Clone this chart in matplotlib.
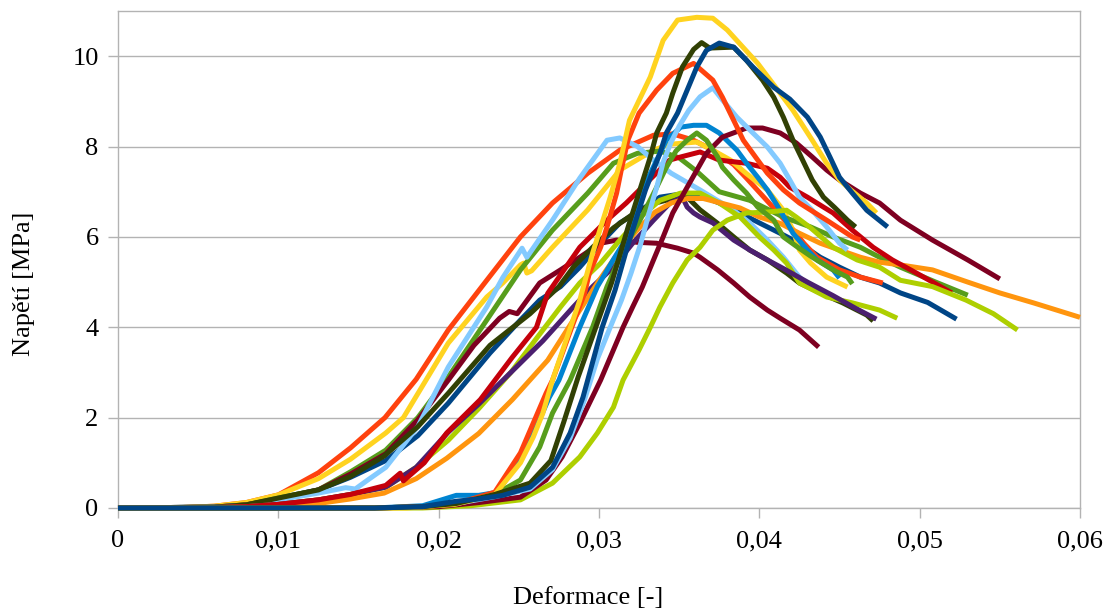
import matplotlib
matplotlib.use("Agg")
import matplotlib.pyplot as plt

# ---------------- data (strain [-], stress [MPa]) ----------------
x_dblue_late = [0, 0.016, 0.019, 0.0211, 0.0225, 0.024, 0.0257, 0.0271, 0.0282, 0.029, 0.0302, 0.031, 0.0318, 0.0329, 0.0338, 0.0342, 0.0349, 0.0355, 0.0361, 0.0367, 0.0375, 0.0384, 0.0396, 0.0409, 0.0419, 0.043, 0.0438, 0.0444, 0.045, 0.0458, 0.0467, 0.048]
y_dblue_late = [0, 0.0, 0.03, 0.15, 0.2, 0.28, 0.46, 0.9, 1.66, 2.45, 4.0, 4.82, 5.82, 7.04, 7.85, 8.3, 8.74, 9.25, 9.76, 10.13, 10.29, 10.2, 9.76, 9.31, 9.05, 8.65, 8.21, 7.77, 7.32, 6.97, 6.59, 6.22]

x_ored_early = [0, 0.004, 0.006, 0.008, 0.010, 0.0125, 0.0145, 0.01665, 0.0186, 0.0206, 0.023, 0.0251, 0.0271, 0.0293, 0.0313, 0.0334, 0.0346, 0.0359, 0.0371, 0.0384, 0.0392, 0.0401, 0.041, 0.042, 0.0428, 0.0436, 0.045, 0.0463, 0.0477]
y_ored_early = [0, 0.01, 0.04, 0.12, 0.29, 0.78, 1.33, 2.0, 2.85, 3.94, 5.04, 6.0, 6.75, 7.41, 7.92, 8.25, 8.28, 8.14, 7.92, 7.6, 7.3, 6.95, 6.6, 6.2, 5.85, 5.55, 5.27, 5.11, 4.98]

x_yellow_late = [0, 0.018, 0.021, 0.0235, 0.0251, 0.0259, 0.0265, 0.0271, 0.0288, 0.0296, 0.0307, 0.0313, 0.0319, 0.0332, 0.034, 0.0349, 0.0361, 0.0371, 0.038, 0.0399, 0.0421, 0.0433, 0.0442, 0.045, 0.0457, 0.0467, 0.0473]
y_yellow_late = [0, 0.0, 0.08, 0.3, 1.0, 1.57, 2.1, 2.83, 4.6, 5.64, 6.88, 7.63, 8.58, 9.54, 10.35, 10.8, 10.86, 10.84, 10.58, 9.84, 8.8, 8.14, 7.63, 7.26, 7.04, 6.75, 6.53]

x_green_early = [0, 0.006, 0.008, 0.010, 0.0125, 0.0145, 0.0167, 0.0187, 0.0206, 0.023, 0.0251, 0.0271, 0.0293, 0.0309, 0.0324, 0.0338, 0.035, 0.0361, 0.0375, 0.0394, 0.0415, 0.0432, 0.0446, 0.0463, 0.0475, 0.0488, 0.051, 0.053]
y_green_early = [0, 0.02, 0.07, 0.22, 0.4, 0.8, 1.28, 2.0, 2.9, 4.16, 5.27, 6.15, 6.97, 7.63, 7.85, 7.9, 7.75, 7.45, 7.0, 6.81, 6.44, 6.22, 6.0, 5.77, 5.55, 5.33, 5.0, 4.71]

x_maroon_early = [0, 0.006, 0.008, 0.010, 0.0125, 0.0145, 0.0167, 0.0187, 0.0206, 0.0222, 0.0238, 0.0244, 0.0249, 0.0263, 0.0276, 0.0288, 0.0301, 0.0311, 0.0324, 0.0336, 0.0349, 0.0359, 0.0363, 0.0374, 0.0384, 0.0394, 0.0405, 0.0413, 0.0425, 0.0437]
y_maroon_early = [0, 0.02, 0.07, 0.2, 0.4, 0.75, 1.2, 1.95, 2.83, 3.6, 4.2, 4.35, 4.3, 4.98, 5.27, 5.55, 5.86, 5.93, 5.88, 5.86, 5.75, 5.64, 5.55, 5.27, 4.98, 4.67, 4.38, 4.2, 3.94, 3.56]

x_lblue_early = [0, 0.006, 0.008, 0.010, 0.0125, 0.0142, 0.0148, 0.0155, 0.0167, 0.0187, 0.0206, 0.023, 0.024, 0.0252, 0.0255, 0.0271, 0.0288, 0.0305, 0.0313, 0.0324, 0.0334, 0.0345, 0.0363, 0.0384, 0.0394, 0.0405, 0.0415, 0.0425, 0.0432]
y_lblue_early = [0, 0.02, 0.06, 0.18, 0.33, 0.45, 0.42, 0.6, 0.9, 1.8, 3.12, 4.45, 5.1, 5.75, 5.55, 6.37, 7.3, 8.14, 8.19, 8.0, 7.7, 7.41, 7.04, 6.59, 6.31, 5.93, 5.55, 5.11, 4.89]

x_olive_late = [0, 0.016, 0.019, 0.0211, 0.0235, 0.0257, 0.027, 0.0278, 0.0287, 0.0298, 0.0308, 0.0318, 0.0326, 0.0332, 0.0336, 0.0342, 0.0346, 0.0352, 0.0359, 0.0364, 0.0369, 0.0384, 0.0392, 0.0402, 0.0409, 0.0415, 0.0421, 0.0427, 0.0433, 0.044, 0.0447, 0.0455, 0.046]
y_olive_late = [0, 0.0, 0.03, 0.1, 0.3, 0.55, 1.05, 1.9, 2.9, 4.0, 5.0, 6.2, 7.1, 7.77, 8.3, 8.74, 9.18, 9.76, 10.15, 10.3, 10.18, 10.2, 9.91, 9.47, 9.09, 8.65, 8.14, 7.7, 7.26, 6.88, 6.65, 6.37, 6.22]

x_lime_late = [0, 0.019, 0.022, 0.0251, 0.0271, 0.0288, 0.0299, 0.0309, 0.0315, 0.0325, 0.0332, 0.0338, 0.0346, 0.0355, 0.0363, 0.0371, 0.038, 0.0392, 0.0405, 0.0417, 0.0423, 0.0432, 0.0446, 0.0461, 0.0475, 0.0488, 0.0508, 0.0529, 0.0546, 0.0561]
y_lime_late = [0, 0.0, 0.05, 0.18, 0.55, 1.13, 1.66, 2.23, 2.83, 3.5, 4.0, 4.45, 4.98, 5.49, 5.77, 6.15, 6.37, 6.53, 6.55, 6.59, 6.44, 6.2, 5.77, 5.49, 5.33, 5.04, 4.9, 4.6, 4.3, 3.94]

x_purple = [0, 0.006, 0.008, 0.010, 0.0125, 0.0145, 0.0167, 0.0186, 0.0206, 0.0225, 0.0245, 0.0265, 0.0284, 0.0296, 0.0309, 0.0321, 0.0334, 0.0344, 0.0352, 0.0355, 0.0359, 0.0363, 0.0371, 0.0384, 0.0394, 0.0405, 0.0415, 0.043, 0.0446, 0.046, 0.0473]
y_purple = [0, 0.01, 0.03, 0.08, 0.18, 0.3, 0.46, 0.9, 1.68, 2.3, 3.0, 3.7, 4.45, 4.9, 5.33, 5.86, 6.37, 6.74, 6.88, 6.66, 6.53, 6.44, 6.31, 5.93, 5.71, 5.49, 5.3, 5.0, 4.7, 4.42, 4.18]

x_orange = [0, 0.006, 0.008, 0.010, 0.0125, 0.0145, 0.0166, 0.0186, 0.0205, 0.0225, 0.0246, 0.0268, 0.0284, 0.0299, 0.0313, 0.0325, 0.0335, 0.0345, 0.0355, 0.0365, 0.0376, 0.0388, 0.04, 0.0413, 0.0425, 0.0438, 0.045, 0.0463, 0.0475, 0.0488, 0.0508, 0.053, 0.055, 0.0571, 0.06]
y_orange = [0, 0.01, 0.02, 0.05, 0.1, 0.2, 0.33, 0.65, 1.1, 1.65, 2.4, 3.27, 4.16, 4.98, 5.7, 6.2, 6.55, 6.75, 6.85, 6.85, 6.75, 6.64, 6.44, 6.3, 6.08, 5.86, 5.71, 5.55, 5.44, 5.38, 5.27, 5.0, 4.76, 4.54, 4.22]

x_red = [0, 0.006, 0.008, 0.010, 0.0125, 0.0145, 0.0167, 0.0176, 0.0178, 0.0191, 0.0205, 0.0226, 0.0246, 0.0261, 0.0268, 0.0288, 0.0305, 0.0317, 0.0344, 0.0351, 0.0363, 0.0375, 0.0392, 0.0405, 0.0413, 0.0419, 0.043, 0.044, 0.0446, 0.0458, 0.0471, 0.0483, 0.0498, 0.052]
y_red = [0, 0.01, 0.03, 0.08, 0.18, 0.3, 0.5, 0.77, 0.6, 1.0, 1.66, 2.4, 3.34, 4.0, 4.75, 5.77, 6.37, 6.75, 7.7, 7.77, 7.88, 7.7, 7.63, 7.52, 7.32, 7.1, 6.88, 6.66, 6.53, 6.15, 5.77, 5.49, 5.2, 4.76]

x_blue = [0, 0.016, 0.019, 0.0211, 0.0225, 0.0237, 0.0251, 0.0261, 0.0269, 0.0275, 0.0288, 0.0299, 0.0309, 0.0319, 0.0326, 0.0336, 0.0342, 0.0351, 0.0359, 0.0367, 0.0375, 0.0386, 0.0392, 0.0399, 0.0405, 0.0413, 0.0421, 0.043, 0.0436, 0.0446, 0.045]
y_blue = [0, 0.0, 0.05, 0.28, 0.28, 0.35, 1.13, 1.8, 2.45, 2.83, 4.0, 4.9, 5.5, 6.08, 6.97, 7.7, 8.14, 8.43, 8.47, 8.47, 8.3, 7.92, 7.63, 7.32, 7.04, 6.59, 6.08, 5.71, 5.49, 5.27, 5.09]

x_dblue_early = [0, 0.006, 0.008, 0.010, 0.0125, 0.0145, 0.0167, 0.0187, 0.0206, 0.0232, 0.0251, 0.0263, 0.0276, 0.0288, 0.0301, 0.0313, 0.0326, 0.0338, 0.0355, 0.0363, 0.0375, 0.0388, 0.04, 0.0413, 0.0425, 0.0438, 0.045, 0.0463, 0.0475, 0.0488, 0.0505, 0.0523]
y_dblue_early = [0, 0.02, 0.07, 0.22, 0.4, 0.68, 1.05, 1.6, 2.32, 3.43, 4.16, 4.6, 4.9, 5.33, 5.86, 6.31, 6.59, 6.88, 6.97, 6.92, 6.75, 6.53, 6.31, 6.08, 5.86, 5.55, 5.33, 5.11, 4.98, 4.76, 4.55, 4.18]

x_ored_late = [0, 0.016, 0.019, 0.0211, 0.0235, 0.0251, 0.0259, 0.0267, 0.0271, 0.0283, 0.0291, 0.0294, 0.0301, 0.0305, 0.0311, 0.0314, 0.0318, 0.0325, 0.0336, 0.0346, 0.0359, 0.0371, 0.0377, 0.0384, 0.039, 0.0399, 0.0405, 0.0415, 0.0425, 0.0442, 0.0458, 0.0463]
y_ored_late = [0, 0.0, 0.03, 0.1, 0.35, 1.22, 1.88, 2.54, 2.83, 4.0, 4.75, 5.2, 5.77, 6.22, 6.97, 7.5, 8.14, 8.74, 9.25, 9.62, 9.84, 9.47, 9.09, 8.58, 8.14, 7.7, 7.41, 7.04, 6.75, 6.37, 6.0, 5.93]

x_yellow_early = [0, 0.004, 0.006, 0.008, 0.010, 0.0125, 0.0145, 0.0167, 0.0178, 0.0206, 0.0218, 0.023, 0.024, 0.0251, 0.0253, 0.0255, 0.0258, 0.0271, 0.0293, 0.0313, 0.0334, 0.0344, 0.0361, 0.0371, 0.0382, 0.0392, 0.0405, 0.0415, 0.0421, 0.0425, 0.0432, 0.0442, 0.0455]
y_yellow_early = [0, 0.01, 0.04, 0.12, 0.29, 0.65, 1.08, 1.66, 2.0, 3.65, 4.16, 4.67, 4.98, 5.38, 5.42, 5.2, 5.25, 5.77, 6.6, 7.48, 7.92, 8.05, 8.1, 7.92, 7.7, 7.4, 7.04, 6.59, 6.15, 5.71, 5.42, 5.11, 4.89]

x_green_late = [0, 0.016, 0.019, 0.0211, 0.0235, 0.0251, 0.0263, 0.0271, 0.0282, 0.0296, 0.0305, 0.0315, 0.0326, 0.0336, 0.0342, 0.0348, 0.0355, 0.0361, 0.0367, 0.0374, 0.0377, 0.0384, 0.0392, 0.0399, 0.0409, 0.0415, 0.0424, 0.0433, 0.0446, 0.0455, 0.0458]
y_green_late = [0, 0.0, 0.03, 0.1, 0.3, 0.62, 1.35, 2.1, 2.83, 4.0, 4.9, 5.7, 6.4, 7.1, 7.54, 7.9, 8.14, 8.3, 8.14, 7.77, 7.54, 7.26, 6.97, 6.66, 6.37, 6.0, 5.77, 5.55, 5.27, 5.11, 4.96]

x_maroon_late = [0, 0.016, 0.02, 0.0225, 0.0251, 0.0267, 0.0277, 0.0288, 0.0301, 0.0315, 0.0321, 0.0327, 0.0334, 0.034, 0.0346, 0.0355, 0.0367, 0.0377, 0.0392, 0.0402, 0.0413, 0.0423, 0.0433, 0.0442, 0.045, 0.0463, 0.0475, 0.0488, 0.0508, 0.053, 0.055]
y_maroon_late = [0, 0.0, 0.03, 0.12, 0.24, 0.62, 1.13, 1.88, 2.83, 4.0, 4.45, 4.89, 5.49, 6.0, 6.53, 7.1, 7.85, 8.21, 8.41, 8.41, 8.3, 8.08, 7.77, 7.48, 7.26, 6.97, 6.75, 6.37, 5.93, 5.49, 5.07]

x_lblue_late = [0, 0.016, 0.019, 0.0211, 0.0235, 0.0257, 0.0271, 0.0282, 0.0291, 0.0299, 0.0307, 0.0314, 0.032, 0.0326, 0.0331, 0.0336, 0.034, 0.0345, 0.035, 0.0356, 0.0363, 0.0371, 0.0377, 0.0386, 0.0396, 0.0405, 0.0413, 0.0419, 0.0425, 0.0433, 0.0442, 0.045, 0.0455]
y_lblue_late = [0, 0.0, 0.03, 0.1, 0.25, 0.42, 0.85, 1.55, 2.4, 3.3, 4.0, 4.6, 5.2, 5.85, 6.5, 7.1, 7.65, 8.1, 8.45, 8.8, 9.1, 9.3, 9.03, 8.65, 8.3, 7.99, 7.63, 7.26, 6.88, 6.59, 6.22, 5.86, 5.71]

x_olive_early = [0, 0.006, 0.008, 0.010, 0.0125, 0.0145, 0.0166, 0.0187, 0.0206, 0.0232, 0.0257, 0.0275, 0.0284, 0.0296, 0.0309, 0.0321, 0.0334, 0.0346, 0.0355, 0.0363, 0.0374, 0.0384, 0.0394, 0.0405, 0.0417, 0.0425, 0.0438, 0.0452, 0.0467, 0.0471]
y_olive_early = [0, 0.02, 0.07, 0.22, 0.4, 0.7, 1.15, 1.8, 2.54, 3.6, 4.3, 4.9, 5.33, 5.77, 6.2, 6.5, 6.74, 6.85, 6.88, 6.6, 6.3, 6.0, 5.71, 5.49, 5.2, 4.98, 4.76, 4.54, 4.27, 4.14]

x_lime_early = [0, 0.006, 0.008, 0.010, 0.0125, 0.0145, 0.0167, 0.0186, 0.0206, 0.0225, 0.0245, 0.0262, 0.0276, 0.0288, 0.0301, 0.0313, 0.0326, 0.0338, 0.0351, 0.0363, 0.0375, 0.0388, 0.04, 0.0409, 0.0417, 0.0425, 0.0442, 0.0458, 0.0475, 0.0486]
y_lime_early = [0, 0.01, 0.03, 0.08, 0.18, 0.3, 0.46, 0.9, 1.5, 2.2, 3.0, 3.8, 4.45, 4.98, 5.42, 5.93, 6.44, 6.81, 6.97, 6.97, 6.75, 6.44, 6.0, 5.71, 5.42, 4.98, 4.67, 4.54, 4.38, 4.2]

x_ticks = [0, 0.01, 0.02, 0.03, 0.04, 0.05, 0.06]
x_tick_labels = ["0", "0,01", "0,02", "0,03", "0,04", "0,05", "0,06"]
y_ticks = [0, 2, 4, 6, 8, 10]
y_tick_labels = ["0", "2", "4", "6", "8", "10"]
x_title = "Deformace [-]"
y_title = "Napětí [MPa]"

# ---------------- style ----------------
C = {
    "dblue": "#004586", "ored": "#ff420e", "yellow": "#ffd320", "green": "#579d1c",
    "maroon": "#7e0021", "lblue": "#83caff", "olive": "#314004", "lime": "#aecf00",
    "purple": "#4b1f6f", "orange": "#ff950e", "red": "#c5000b", "blue": "#0084d1",
}

series = [
    (x_dblue_early, y_dblue_early, C["dblue"]),
    (x_ored_early, y_ored_early, C["ored"]),
    (x_yellow_early, y_yellow_early, C["yellow"]),
    (x_green_early, y_green_early, C["green"]),
    (x_maroon_early, y_maroon_early, C["maroon"]),
    (x_lblue_early, y_lblue_early, C["lblue"]),
    (x_olive_early, y_olive_early, C["olive"]),
    (x_lime_early, y_lime_early, C["lime"]),
    (x_purple, y_purple, C["purple"]),
    (x_orange, y_orange, C["orange"]),
    (x_red, y_red, C["red"]),
    (x_blue, y_blue, C["blue"]),
    (x_lime_late, y_lime_late, C["lime"]),
    (x_maroon_late, y_maroon_late, C["maroon"]),
    (x_green_late, y_green_late, C["green"]),
    (x_lblue_late, y_lblue_late, C["lblue"]),
    (x_ored_late, y_ored_late, C["ored"]),
    (x_yellow_late, y_yellow_late, C["yellow"]),
    (x_olive_late, y_olive_late, C["olive"]),
    (x_dblue_late, y_dblue_late, C["dblue"]),
]

plt.rcParams["font.family"] = ["Liberation Serif", "DejaVu Serif"]
GRAY = "#b3b3b3"

W, H = 1113, 612
fig = plt.figure(figsize=(W / 100, H / 100), dpi=100)
ax = fig.add_axes([118 / W, (H - 508) / H, 962 / W, 497 / H])

for xs, ys, col in series:
    ax.plot(xs, ys, color=col, lw=3.6, solid_joinstyle="round",
            solid_capstyle="butt", clip_on=False, zorder=3)

ax.set_xlim(0, 0.06)
ax.set_ylim(0, 11)
ax.set_xticks(x_ticks)
ax.set_xticklabels(x_tick_labels)
ax.set_yticks(y_ticks)
ax.set_yticklabels(y_tick_labels)
ax.yaxis.grid(True, color=GRAY, lw=1.0, zorder=0)
ax.set_axisbelow(True)
for s in ax.spines.values():
    s.set_color(GRAY)
    s.set_linewidth(1.0)
ax.tick_params(axis="both", which="major", direction="out", color=GRAY,
               width=1.0, length=7, labelsize=19, labelcolor="black")
ax.tick_params(axis="x", pad=9)
ax.tick_params(axis="y", pad=7)

fig.text(588.5 / W, (H - 598) / H, x_title, ha="center", va="center", fontsize=19)
fig.text(24 / W, (H - 284) / H, y_title, ha="center", va="center",
         rotation=90, fontsize=19)

fig.savefig("out.png", dpi=100)
